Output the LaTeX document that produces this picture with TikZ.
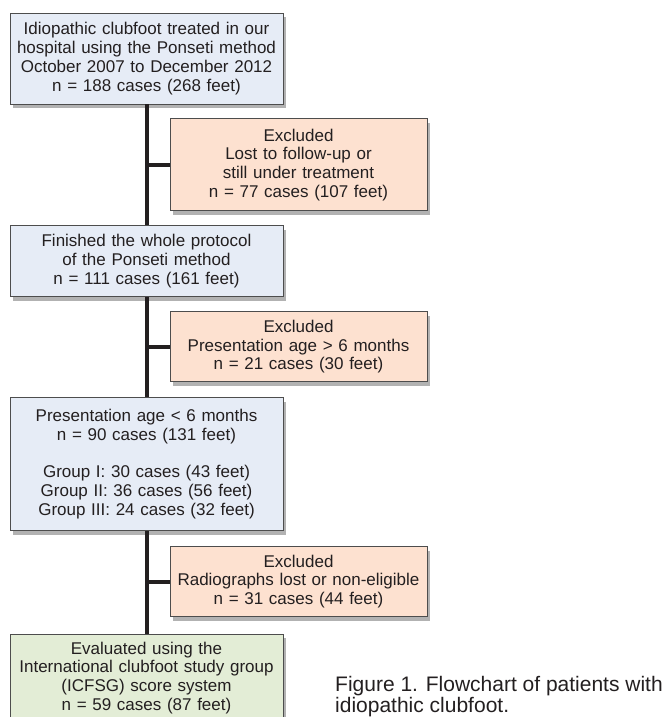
\documentclass[tikz,border=0pt]{standalone}
\usepackage{fontspec}
\setmainfont{Liberation Sans}
\usepackage{tikz}
\usetikzlibrary{positioning,shadows}
\definecolor{boxblue}{HTML}{E6ECF6}
\definecolor{boxpink}{HTML}{FDE1D0}
\definecolor{boxgreen}{HTML}{E3EDD6}
\definecolor{edgegray}{HTML}{4D4D4D}
\definecolor{inkdark}{HTML}{231F20}
\tikzset{
    flowbox/.style={draw=edgegray, line width=0.9pt, align=center, inner sep=4pt, text=inkdark,
        font=\fontsize{17}{18.8}\selectfont,
        drop shadow={shadow xshift=3pt, shadow yshift=-4pt, fill=black, opacity=0.3}},
    mainbox/.style={flowbox, fill=boxblue, text width=265pt},
    exclbox/.style={flowbox, fill=boxpink, text width=249pt},
    endbox/.style={flowbox, fill=boxgreen, text width=265pt},
    trunk/.style={draw=inkdark, line width=4pt},
    caption/.style={align=left, inner sep=0pt, text=inkdark, font=\fontsize{21}{21}\selectfont}
}

\begin{document}
\begin{tikzpicture}[node distance=14pt]
    \useasboundingbox (0,0) rectangle (664pt,-717pt);
    \node[mainbox, minimum height=91pt] (start) at (146.5pt,-58.5pt) {Idiopathic clubfoot treated in our\\hospital using the Ponseti method\\October 2007 to December 2012\\n = 188 cases (268 feet)};
    \node[exclbox, minimum height=92pt, below=of start, xshift=152pt] (lost) {Excluded\\Lost to follow-up or\\still under treatment\\n = 77 cases (107 feet)};
    \node[mainbox, minimum height=71pt, below=of lost, xshift=-152pt] (protocol) {Finished the whole protocol\\of the Ponseti method\\n = 111 cases (161 feet)};
    \node[exclbox, minimum height=70pt, below=of protocol, xshift=152pt] (older) {Excluded\\Presentation age > 6 months\\n = 21 cases (30 feet)};
    \node[mainbox, minimum height=133pt, below=15pt of older, xshift=-152pt] (younger) {Presentation age < 6 months\\n = 90 cases (131 feet)\\[18.8pt]Group I: 30 cases (43 feet)\\Group II: 36 cases (56 feet)\\Group III: 24 cases (32 feet)};
    \node[exclbox, minimum height=70pt, below=15pt of younger, xshift=152pt] (radio) {Excluded\\Radiographs lost or non-eligible\\n = 31 cases (44 feet)};
    \node[endbox, minimum height=87pt, below=17pt of radio, xshift=-152pt] (icfsg) {Evaluated using the\\International clubfoot study group\\(ICFSG) score system\\n = 59 cases (87 feet)};
    \node[caption, anchor=north west] (cap) at (335pt,-676pt) {Figure 1. Flowchart of patients with\\idiopathic clubfoot.};

    \draw[trunk] (start.south) -- (protocol.north);
    \draw[trunk] (protocol.south) -- (younger.north);
    \draw[trunk] (younger.south) -- (icfsg.north);
    \draw[trunk] (lost.west) -- (lost.west -| start.south);
    \draw[trunk] (older.west) -- (older.west -| protocol.south);
    \draw[trunk] (radio.west) -- (radio.west -| younger.south);
\end{tikzpicture}
\end{document}
